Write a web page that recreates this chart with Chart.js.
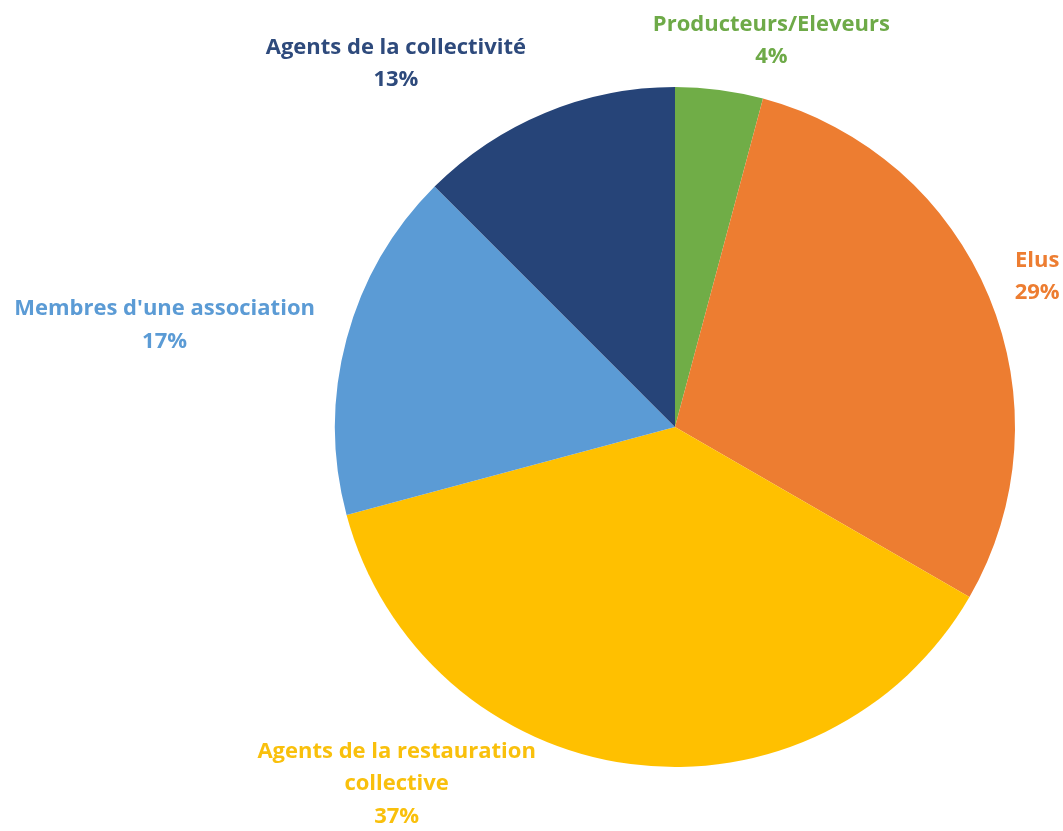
<!DOCTYPE html>
<html>
<head>
<meta charset="utf-8">
<script src="https://cdn.jsdelivr.net/npm/chart.js@4/dist/chart.umd.min.js"></script>
<style>
html,body{margin:0;padding:0;background:#fff;}
#wrap{width:1063px;height:831px;position:relative;}
</style>
</head>
<body>
<div id="wrap"><canvas id="c" width="1063" height="831"></canvas></div>
<script>
const categories = ["Producteurs/Eleveurs", "Elus", "Agents de la restauration collective", "Membres d'une association", "Agents de la collectivité"];
const labelLines = [["Producteurs/Eleveurs"], ["Elus"], ["Agents de la restauration", "collective"], ["Membres d'une association"], ["Agents de la collectivité"]];
const values = [1, 7, 9, 4, 3];
const percentLabels = ["4%", "29%", "37%", "17%", "13%"];
const sliceColors = ["#70AD47", "#ED7D31", "#FFC000", "#5B9BD5", "#264478"];
const textColors = ["#6EAA48", "#ED7D31", "#F9C00C", "#5B9BD5", "#2E4A7C"];
const labelOffsets = [[52, -49], [48, -20], [-234, 20], [-182, -14], [-149, -49]];

const outsideLabels = {
  id: 'outsideLabels',
  afterDatasetsDraw(chart) {
    const ctx = chart.ctx;
    const meta = chart.getDatasetMeta(0);
    const lh = 32.5;
    ctx.save();
    ctx.font = 'bold 22px "Open Sans"';
    ctx.textAlign = 'center';
    ctx.textBaseline = 'middle';
    meta.data.forEach((arc, i) => {
      const mid = (arc.startAngle + arc.endAngle) / 2;
      const x0 = arc.x + Math.cos(mid) * arc.outerRadius + labelOffsets[i][0];
      const y0 = arc.y + Math.sin(mid) * arc.outerRadius + labelOffsets[i][1];
      const lines = labelLines[i].concat([percentLabels[i]]);
      const top = y0 - (lines.length - 1) * lh / 2;
      ctx.fillStyle = textColors[i];
      lines.forEach((t, k) => ctx.fillText(t, x0, top + k * lh));
    });
    ctx.restore();
  }
};

new Chart(document.getElementById('c'), {
  type: 'pie',
  data: {
    labels: categories,
    datasets: [{
      data: values,
      backgroundColor: sliceColors,
      borderWidth: 0
    }]
  },
  options: {
    responsive: false,
    animation: false,
    layout: { padding: { left: 335, right: 48, top: 87, bottom: 64 } },
    plugins: { legend: { display: false }, tooltip: { enabled: false } }
  },
  plugins: [outsideLabels]
});
</script>
</body>
</html>
